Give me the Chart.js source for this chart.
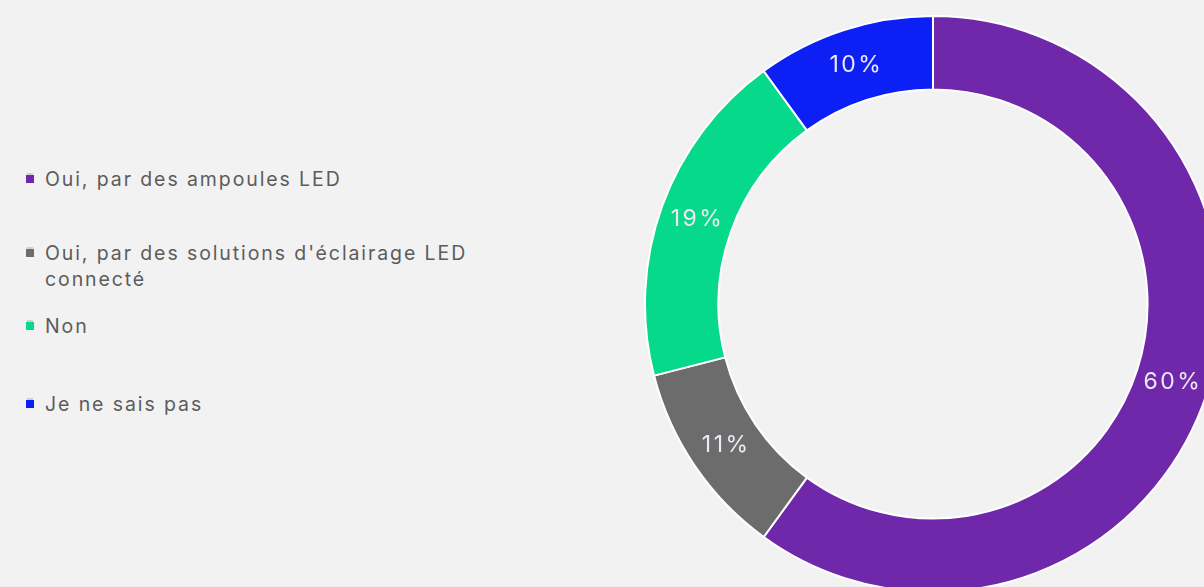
<!DOCTYPE html>
<html lang="fr">
<head>
<meta charset="utf-8">
<title>Éclairage LED</title>
<script src="https://cdn.jsdelivr.net/npm/chart.js@4/dist/chart.umd.min.js"></script>
<style>
    html, body { margin: 0; padding: 0; }
    body {
        width: 1204px; height: 587px; overflow: hidden;
        background: #f2f2f2; position: relative;
        font-family: "Inter", "Roboto", sans-serif;
    }
    #legend { position: absolute; left: 26px; top: 0; list-style: none; margin: 0; padding: 0; }
    #legend li {
        position: absolute; left: 0; width: 460px;
        display: flex; align-items: flex-start;
        font-size: 19.5px; line-height: 26px; letter-spacing: 1.9px;
        color: #5c5c5c;
    }
    #legend li:nth-child(1) { top: 166px; }
    #legend li:nth-child(2) { top: 240px; }
    #legend li:nth-child(3) { top: 313px; }
    #legend li:nth-child(4) { top: 391px; }
    #legend .box {
        flex: none; width: 8px; height: 8px; margin: 9px 11px 0 0;
        box-shadow: 0 -3px 0 -1px #cfcfcf;
    }
    #legend .txt { max-width: 430px; }
    #wrap { position: absolute; left: 644px; top: 15px; width: 578px; height: 578px; }
</style>
</head>
<body>
<ul id="legend"></ul>
<div id="wrap"><canvas id="donut" width="578" height="578"></canvas></div>
<script>
// Réponses (%)
const labels = [
    'Oui, par des ampoules LED',
    "Oui, par des solutions d'éclairage LED connecté",
    'Non',
    'Je ne sais pas'
];
const values = [60, 11, 19, 10];
const colors = ['#7028aa', '#6c6c6c', '#07d98b', '#0c20f5'];

// Pourcentages écrits au milieu de chaque secteur
const sliceLabels = {
    id: 'sliceLabels',
    afterDatasetsDraw(chart) {
        const c = chart.ctx;
        const meta = chart.getDatasetMeta(0);
        c.save();
        c.font = '23px "Inter", "Roboto", sans-serif';
        c.letterSpacing = '2.5px';
        c.fillStyle = '#eee8f4';
        c.textAlign = 'center';
        c.textBaseline = 'middle';
        meta.data.forEach((arc, i) => {
            const p = arc.tooltipPosition();
            c.fillText(values[i] + '%', p.x + 1, p.y);
        });
        c.restore();
    }
};

// Légende HTML construite à partir des mêmes tableaux
const htmlLegend = {
    id: 'htmlLegend',
    afterUpdate(chart) {
        const ul = document.getElementById('legend');
        ul.innerHTML = chart.options.plugins.legend.labels.generateLabels(chart).map(item => `
            <li><span class="box" style="background:${item.fillStyle}"></span><span class="txt">${item.text}</span></li>
        `).join('');
    }
};

const ctx = document.getElementById('donut').getContext('2d');
new Chart(ctx, {
    type: 'doughnut',
    data: {
        labels: labels,
        datasets: [{
            data: values,
            backgroundColor: colors,
            borderColor: '#ffffff',
            borderWidth: 2
        }]
    },
    options: {
        responsive: false,
        animation: false,
        cutout: '74.5%',
        layout: { padding: 0 },
        plugins: {
            legend: { display: false },
            tooltip: { enabled: false }
        }
    },
    plugins: [sliceLabels, htmlLegend]
});
</script>
</body>
</html>
